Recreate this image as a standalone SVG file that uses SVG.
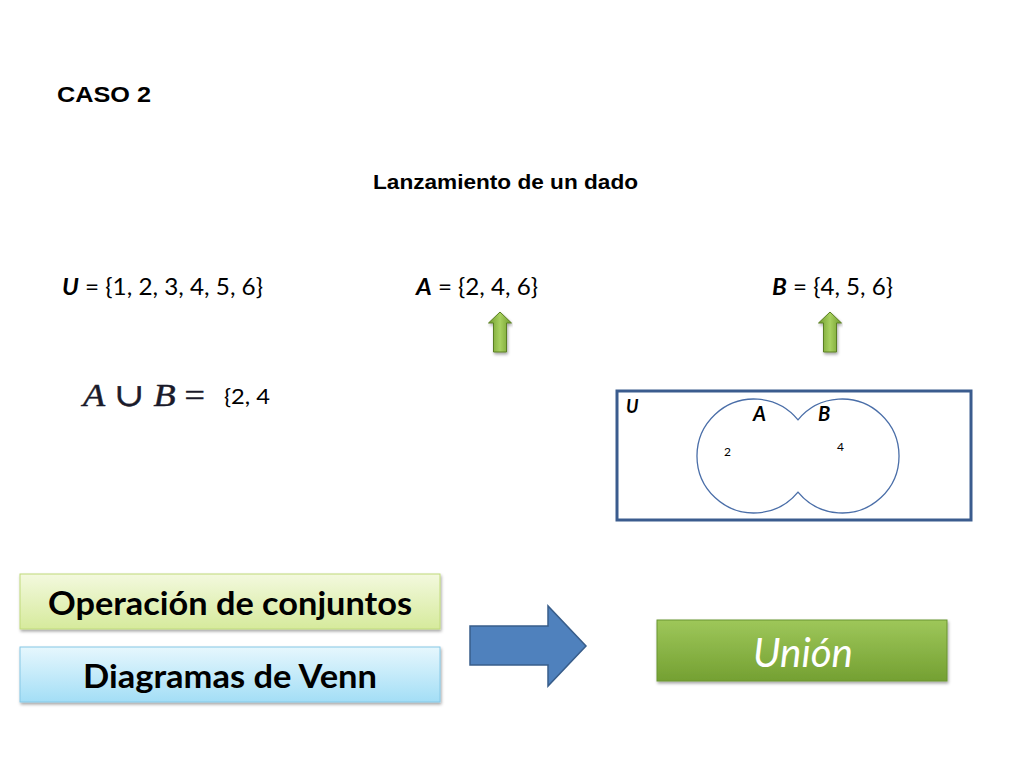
<svg xmlns="http://www.w3.org/2000/svg" width="1024" height="768" viewBox="0 0 1024 768">
<defs>
<style>
.t{font-family:"Liberation Sans",Arial,sans-serif;font-weight:bold;fill:#000}
.c{font-family:Lato,"Open Sans",sans-serif;fill:#000}
.venn{fill:none;stroke:#4a6ea8;stroke-width:1.3}
</style>
<linearGradient id="gGreenLight" x1="0" y1="0" x2="0" y2="1">
<stop offset="0" stop-color="#f3f9de"/><stop offset="1" stop-color="#d6ea9c"/>
</linearGradient>
<linearGradient id="gBlueLight" x1="0" y1="0" x2="0" y2="1">
<stop offset="0" stop-color="#e6f7fd"/><stop offset="1" stop-color="#a3def6"/>
</linearGradient>
<linearGradient id="gGreen" x1="0" y1="0" x2="0" y2="1">
<stop offset="0" stop-color="#9ec75a"/><stop offset="1" stop-color="#74a032"/>
</linearGradient>
<linearGradient id="gArrow" x1="0" y1="0" x2="1" y2="0">
<stop offset="0" stop-color="#6e9a2c"/><stop offset="0.5" stop-color="#a8d160"/><stop offset="1" stop-color="#6e9a2c"/>
</linearGradient>
<filter id="sh" x="-5%" y="-10%" width="110%" height="130%">
<feDropShadow dx="1" dy="2" stdDeviation="1.5" flood-color="#000" flood-opacity="0.35"/>
</filter>
<path id="upArrow" d="M-6.5,40 L-6.5,11 L-11.5,11 L0,0 L11.5,11 L6.5,11 L6.5,40 Z"/>
</defs>
<rect width="1024" height="768" fill="#fff"/>

<g id="title">
<text class="t" x="57" y="102" font-size="22" textLength="94" lengthAdjust="spacingAndGlyphs">CASO 2</text>
<text class="t" x="373" y="189" font-size="20" textLength="265" lengthAdjust="spacingAndGlyphs">Lanzamiento de un dado</text>
</g>

<g id="setU">
<text class="c" x="62" y="295" font-size="23" textLength="201" lengthAdjust="spacingAndGlyphs"><tspan font-weight="bold" font-style="italic">U</tspan> = {1, 2, 3, 4, 5, 6}</text>
</g>
<g id="setA">
<text class="c" x="416" y="295" font-size="23" textLength="122" lengthAdjust="spacingAndGlyphs"><tspan font-weight="bold" font-style="italic">A</tspan> = {2, 4, 6}</text>
</g>
<g id="setB">
<text class="c" x="772" y="295" font-size="23" textLength="121" lengthAdjust="spacingAndGlyphs"><tspan font-weight="bold" font-style="italic">B</tspan> = {4, 5, 6}</text>
</g>

<g id="arrowA">
<use href="#upArrow" x="500" y="312" fill="url(#gArrow)" stroke="#5a7f22" stroke-width="1" filter="url(#sh)"/>
</g>
<g id="arrowB">
<use href="#upArrow" x="830" y="312" fill="url(#gArrow)" stroke="#5a7f22" stroke-width="1" filter="url(#sh)"/>
</g>

<g id="formula">
<text x="83" y="406" font-family="'Liberation Serif','DejaVu Serif',serif" font-size="32" font-style="italic" fill="#1a1a2a" stroke="#1a1a2a" stroke-width="0.5" textLength="122" lengthAdjust="spacingAndGlyphs">A<tspan font-style="normal"> ∪ </tspan>B<tspan font-style="normal"> =</tspan></text>
<text class="c" x="224" y="404" font-size="21" textLength="46" lengthAdjust="spacingAndGlyphs">{2, 4</text>
</g>

<g id="venn">
<rect x="617" y="391" width="354" height="129" fill="none" stroke="#3b5c8e" stroke-width="3"/>
<path class="venn" d="M798,419.8 A57,57 0 1,0 798,492.2 A57,57 0 1,0 798,419.8 Z"/>
<text class="c" x="626" y="413" font-size="18" font-weight="bold" font-style="italic">U</text>
<text class="c" x="753" y="421" font-size="20" font-weight="bold" font-style="italic">A</text>
<text class="c" x="818" y="421" font-size="20" font-weight="bold" font-style="italic">B</text>
<text class="c" x="724" y="456" font-size="12">2</text>
<text class="c" x="837" y="451" font-size="12">4</text>
</g>

<g id="operacion">
<rect x="20" y="574" width="420" height="55" fill="url(#gGreenLight)" stroke="#c0da7a" stroke-width="1" filter="url(#sh)"/>
<text class="c" x="48" y="615" font-size="33" font-weight="bold" textLength="364" lengthAdjust="spacingAndGlyphs">Operación de conjuntos</text>
</g>
<g id="diagramas">
<rect x="20" y="647" width="420" height="55" fill="url(#gBlueLight)" stroke="#86c8e6" stroke-width="1" filter="url(#sh)"/>
<text class="c" x="83" y="688" font-size="33" font-weight="bold" textLength="294" lengthAdjust="spacingAndGlyphs">Diagramas de Venn</text>
</g>

<g id="connectors">
<path d="M470,626 L548,626 L548,606 L586,646 L548,686 L548,665 L470,665 Z" fill="#4f81bd" stroke="#385d8a" stroke-width="1.5"/>
</g>

<g id="union">
<rect x="657" y="620" width="290" height="61" fill="url(#gGreen)" stroke="#6a9530" stroke-width="1" filter="url(#sh)"/>
<text x="753" y="667" font-family="Lato,'Open Sans',sans-serif" font-size="40" font-style="italic" fill="#fff" textLength="100" lengthAdjust="spacingAndGlyphs">Unión</text>
</g>
</svg>
